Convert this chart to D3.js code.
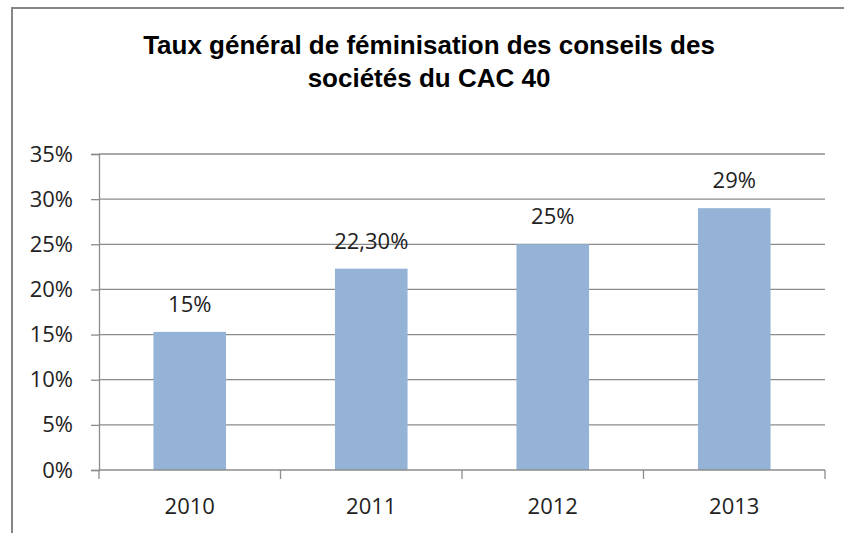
<!DOCTYPE html>
<html>
<head>
<meta charset="utf-8">
<script src="https://cdn.jsdelivr.net/npm/d3@7"></script>
<style>
  body { margin: 0; background: #fff; }
  svg { display: block; }
</style>
</head>
<body>
<div id="canva"></div>
<script>
const years = ['2010', '2011', '2012', '2013'];
const values = [15.3, 22.3, 25.0, 29.0];
const labels = ['15%', '22,30%', '25%', '29%'];
const yTicks = [0, 5, 10, 15, 20, 25, 30, 35];
const titleLines = ['Taux général de féminisation des conseils des', 'sociétés du CAC 40'];

const width = 844;
const height = 533;
const plotLeft = 99, plotRight = 825, plotTop = 154, plotBottom = 470;
const labelFont = '"Open Sans", sans-serif';

const svg = d3.select('#canva')
              .append('svg')
              .attr('width', width)
              .attr('height', height);

// chart frame (cropped on right and bottom)
svg.append('path')
   .attr('d', 'M12,' + height + ' L12,8 L' + width + ',8')
   .attr('fill', 'none')
   .attr('stroke', '#868686')
   .attr('stroke-width', 2);

// title
svg.append('text')
   .attr('x', 429)
   .attr('y', 54)
   .attr('text-anchor', 'middle')
   .style('font-family', '"Liberation Sans", Arial, sans-serif')
   .style('font-weight', 'bold')
   .style('font-size', '26px')
   .selectAll('tspan')
   .data(titleLines)
   .enter()
   .append('tspan')
   .attr('x', 429)
   .attr('dy', (d, i) => i === 0 ? 0 : 33)
   .text(d => d);

const xScale = d3.scaleBand()
                 .domain(years)
                 .range([plotLeft, plotRight])
                 .paddingInner(0.6)
                 .paddingOuter(0.3);

const yScale = d3.scaleLinear()
                 .domain([0, 35])
                 .range([plotBottom, plotTop]);

// gridlines
svg.append('g')
   .selectAll('line')
   .data(yTicks.slice(1))
   .enter()
   .append('line')
   .attr('x1', plotLeft)
   .attr('x2', plotRight)
   .attr('y1', d => yScale(d))
   .attr('y2', d => yScale(d))
   .attr('stroke', '#8c8c8c')
   .attr('stroke-width', 1.3);

// y axis
const yAxis = d3.axisLeft(yScale)
                .tickValues(yTicks)
                .tickSize(8)
                .tickPadding(18)
                .tickFormat(d => d + '%');

const gy = svg.append('g')
              .attr('transform', 'translate(' + plotLeft + ',0)')
              .call(yAxis);
gy.selectAll('line, path').attr('stroke', '#8c8c8c').attr('stroke-width', 1.3);
gy.selectAll('text')
  .style('font-family', labelFont)
  .style('font-size', '22px')
  .attr('fill', '#222');

// bars
svg.append('g')
   .selectAll('rect')
   .data(values)
   .enter()
   .append('rect')
   .attr('x', (d, i) => xScale(years[i]))
   .attr('y', d => yScale(d))
   .attr('width', xScale.bandwidth())
   .attr('height', d => plotBottom - yScale(d))
   .style('fill', '#95b3d7');

// data labels
svg.append('g')
   .selectAll('text')
   .data(values)
   .enter()
   .append('text')
   .attr('x', (d, i) => xScale(years[i]) + xScale.bandwidth() / 2)
   .attr('y', d => yScale(d) - 20)
   .attr('text-anchor', 'middle')
   .style('font-family', labelFont)
   .style('font-size', '22px')
   .attr('fill', '#222')
   .text((d, i) => labels[i]);

// x axis with ticks between categories
const xEdge = d3.scaleLinear().domain([0, years.length]).range([plotLeft, plotRight]);
const gx = svg.append('g');
gx.append('line')
  .attr('x1', plotLeft).attr('x2', plotRight)
  .attr('y1', plotBottom).attr('y2', plotBottom)
  .attr('stroke', '#8c8c8c').attr('stroke-width', 1.3);
gx.selectAll('.tick')
  .data(d3.range(years.length + 1))
  .enter()
  .append('line')
  .attr('x1', d => xEdge(d)).attr('x2', d => xEdge(d))
  .attr('y1', plotBottom).attr('y2', plotBottom + 9)
  .attr('stroke', '#8c8c8c').attr('stroke-width', 1.3);
gx.selectAll('text')
  .data(years)
  .enter()
  .append('text')
  .attr('x', d => xScale(d) + xScale.bandwidth() / 2)
  .attr('y', 514)
  .attr('text-anchor', 'middle')
  .style('font-family', labelFont)
  .style('font-size', '22px')
  .attr('fill', '#222')
  .text(d => d);
</script>
</body>
</html>
